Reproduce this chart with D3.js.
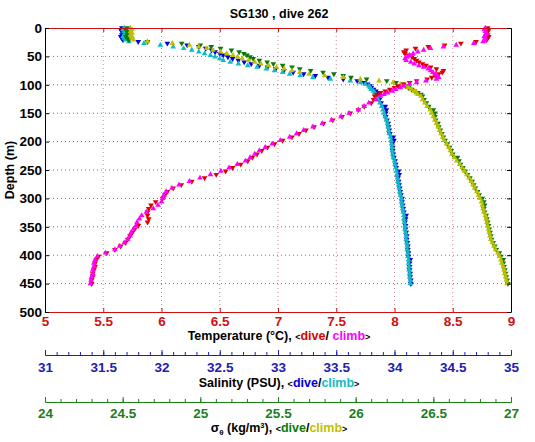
<!DOCTYPE html>
<html><head><meta charset="utf-8">
<script src="https://cdn.jsdelivr.net/npm/d3@7"></script>
<style>
body{margin:0;background:#fff}
text{font-family:"Liberation Sans",Arial,Helvetica,sans-serif;font-weight:bold}
</style>
</head><body>
<svg id="c" width="535" height="442"></svg>
<script>
// ---------------- data ----------------
const depth = [0,3,6,9,12,15,18,21,24,27,30,33,36,39,42,45,48,51,54,57,60,63,66,69,72,75,78,81,84,87,90,93,96,99,102,105,108,111,114,117,120,
126,132,138,144,150,156,162,168,174,180,186,192,198,204,210,216,222,228,234,240,246,252,258,264,270,276,282,288,294,300,306,312,318,324,330,336,342,348,354,360,366,372,378,384,390,396,402,408,414,420,426,432,438,444,450];

const tempDive = [8.80,8.81,8.80,8.79,8.80,8.81,8.80,8.79,8.70,8.57,
8.43,8.29,8.18,8.10,8.08,8.09,8.12,8.15,8.17,8.19,
8.21,8.24,8.27,8.31,8.36,8.42,8.41,8.38,8.35,8.32,
8.28,8.19,8.13,8.08,8.03,8.00,7.96,7.92,7.88,7.85,7.83,
7.82,7.80,7.74,7.69,7.62,7.55,7.47,7.39,7.31,7.24,
7.18,7.12,7.04,6.97,6.91,6.86,6.82,6.78,6.74,6.68,
6.61,6.55,6.47,6.37,6.26,6.17,6.10,6.05,6.03,6.01,
5.95,5.91,5.89,5.88,5.88,5.89,5.88,5.80,5.77,5.75,
5.73,5.71,5.69,5.65,5.60,5.53,5.46,5.44,5.43,5.43,
5.42,5.41,5.41,5.40,5.40];

const tempClimb = [8.78,8.77,8.78,8.79,8.78,8.77,8.78,8.78,8.76,8.68,
8.53,8.42,8.31,8.25,8.20,8.16,8.13,8.11,8.09,8.10,
8.14,8.17,8.21,8.25,8.29,8.31,8.33,8.35,8.37,8.38,
8.36,8.27,8.19,8.13,8.08,8.05,8.01,7.98,7.94,7.91,7.88,
7.84,7.78,7.74,7.69,7.61,7.54,7.46,7.38,7.30,7.22,
7.16,7.10,7.02,6.95,6.89,6.84,6.80,6.76,6.72,6.65,
6.58,6.51,6.42,6.33,6.24,6.15,6.09,6.04,6.02,6.01,
6.00,5.97,5.93,5.87,5.83,5.81,5.79,5.78,5.76,5.74,
5.73,5.71,5.68,5.64,5.60,5.52,5.45,5.43,5.42,5.42,
5.41,5.41,5.40,5.395,5.39];

const salDive = [31.66,31.65,31.66,31.67,31.66,31.65,31.66,31.67,31.80,32.05,
32.22,32.32,32.38,32.43,32.46,32.50,32.53,32.57,32.61,32.66,
32.71,32.77,32.84,32.91,32.98,33.05,33.13,33.22,33.32,33.43,
33.56,33.68,33.74,33.77,33.79,33.80,33.82,33.84,33.86,33.87,33.87,
33.87,33.885,33.92,33.93,33.925,33.925,33.935,33.945,33.95,33.955,
33.96,33.99,33.995,33.98,33.985,33.985,33.99,33.995,34.005,34.01,
34.015,34.035,34.04,34.03,34.035,34.04,34.045,34.05,34.055,34.065,
34.065,34.07,34.075,34.08,34.10,34.095,34.09,34.095,34.095,34.10,
34.105,34.105,34.11,34.115,34.115,34.12,34.12,34.135,34.13,34.13,
34.13,34.135,34.135,34.14,34.14];

const salClimb = [31.68,31.67,31.68,31.69,31.68,31.67,31.68,31.69,31.72,31.85,
31.99,32.10,32.19,32.26,32.32,32.37,32.42,32.46,32.50,32.53,
32.59,32.66,32.74,32.82,32.90,32.97,33.04,33.10,33.19,33.30,
33.45,33.62,33.71,33.75,33.78,33.79,33.80,33.82,33.83,33.84,33.85,
33.86,33.875,33.89,33.90,33.91,33.92,33.93,33.94,33.945,33.95,
33.955,33.965,33.97,33.975,33.98,33.98,33.985,33.99,34.00,34.005,
34.01,34.015,34.02,34.025,34.03,34.035,34.04,34.045,34.05,34.06,
34.06,34.065,34.07,34.075,34.08,34.08,34.085,34.09,34.09,34.095,
34.10,34.10,34.105,34.11,34.11,34.115,34.115,34.12,34.12,34.125,
34.125,34.13,34.13,34.135,34.135];

const sigmaDive = [24.53,24.52,24.53,24.54,24.53,24.52,24.53,24.54,24.66,24.88,
25.00,25.07,25.13,25.20,25.25,25.28,25.30,25.32,25.34,25.38,
25.43,25.47,25.53,25.59,25.64,25.71,25.79,25.86,25.92,25.97,
26.07,26.20,26.26,26.30,26.32,26.34,26.36,26.38,26.40,26.42,26.43,
26.44,26.455,26.47,26.50,26.51,26.51,26.515,26.53,26.535,26.545,
26.555,26.565,26.575,26.59,26.605,26.615,26.625,26.655,26.665,26.675,
26.69,26.705,26.72,26.735,26.75,26.76,26.77,26.785,26.795,26.815,
26.825,26.83,26.825,26.83,26.84,26.845,26.85,26.855,26.86,26.865,
26.87,26.875,26.885,26.895,26.905,26.925,26.935,26.95,26.95,26.955,
26.96,26.965,26.97,26.975,26.98];

const sigmaClimb = [24.55,24.56,24.55,24.56,24.55,24.56,24.56,24.57,24.66,24.82,
24.93,24.99,25.04,25.08,25.13,25.17,25.21,25.24,25.27,25.31,
25.35,25.39,25.44,25.49,25.54,25.59,25.64,25.70,25.80,25.92,
26.03,26.15,26.24,26.29,26.32,26.34,26.36,26.38,26.39,26.40,26.42,
26.43,26.445,26.46,26.48,26.49,26.50,26.51,26.52,26.53,26.54,
26.55,26.56,26.57,26.585,26.60,26.61,26.62,26.635,26.65,26.67,
26.685,26.70,26.715,26.73,26.745,26.755,26.765,26.78,26.79,26.80,
26.81,26.815,26.82,26.825,26.835,26.84,26.845,26.85,26.855,26.86,
26.865,26.87,26.88,26.89,26.90,26.915,26.925,26.935,26.94,26.95,
26.955,26.96,26.965,26.97,26.975];

const depthTicks = [0,50,100,150,200,250,300,350,400,450,500];
const tempTicks = [5,5.5,6,6.5,7,7.5,8,8.5,9];
const salTicks = [31,31.5,32,32.5,33,33.5,34,34.5,35];
const sigmaTicks = [24,24.5,25,25.5,26,26.5,27];

// ---------------- layout ----------------
const L = 45, R = 511, T = 28, B = 312;
const col = {red:'#e00000', mag:'#ff00ff', blue:'#0000e0', cyan:'#10bcc4', green:'#0a7a0a', olive:'#bfbf00',
  tAx:'#d01010', sAx:'#2020b0', gAx:'#1a801a'};

const svg = d3.select('#c');
const y = d3.scaleLinear().domain([0,500]).range([T,B]);
const xT = d3.scaleLinear().domain([5,9]).range([L,R]);
const xS = d3.scaleLinear().domain([31,35]).range([L,R]);
const xG = d3.scaleLinear().domain([24,27]).range([L,R]);

// grid
svg.append('g').selectAll('line').data(tempTicks.slice(1,-1)).join('line')
  .attr('x1',d=>xT(d)).attr('x2',d=>xT(d)).attr('y1',T).attr('y2',B)
  .attr('stroke','#c09090').attr('stroke-width',1).attr('stroke-dasharray','1,3');
svg.append('g').selectAll('line').data(depthTicks.slice(1,-1)).join('line')
  .attr('x1',L).attr('x2',R).attr('y1',d=>y(d)).attr('y2',d=>y(d))
  .attr('stroke','#707070').attr('stroke-width',1).attr('stroke-dasharray','1,3');

// data markers
const tri = d3.symbol().type(d3.symbolTriangle).size(14);
function series(xs, vals, color, dive){
  svg.append('g').selectAll('path').data(vals).join('path')
    .attr('d', tri())
    .attr('transform',(v,i)=>`translate(${xs(v)},${y(depth[i])})${dive?' rotate(180)':''}`)
    .attr('fill',color).attr('stroke','none');
}
series(xS, salDive, col.blue, true);
series(xS, salClimb, col.cyan, false);
series(xG, sigmaDive, col.green, true);
series(xG, sigmaClimb, col.olive, false);
series(xT, tempDive, col.red, true);
series(xT, tempClimb, col.mag, false);

// axes
function style(g, c, fs){
  g.attr('font-weight','bold').attr('font-family','"Liberation Sans",Arial,sans-serif');
  g.selectAll('path,line').attr('stroke',c).attr('stroke-width',1);
  g.selectAll('text').attr('fill',c).style('font-size',fs+'px').style('font-weight','bold')
    .style('font-family','"Liberation Sans",Arial,sans-serif');
}
const fmt = d=>String(d);
const FS = 13.5;
svg.append('g').attr('transform',`translate(0,${B})`)
  .call(d3.axisBottom(xT).tickValues(tempTicks).tickFormat(fmt).tickSizeInner(-4).tickSizeOuter(0).tickPadding(4))
  .call(g=>style(g,col.tAx,FS));
svg.append('g').attr('transform',`translate(0,${T})`)
  .call(d3.axisTop(xT).tickValues(tempTicks).tickFormat('').tickSizeInner(-4).tickSizeOuter(0))
  .call(g=>style(g,col.tAx,FS));
svg.append('g').attr('transform',`translate(${L},0)`)
  .call(d3.axisLeft(y).tickValues(depthTicks).tickFormat(fmt).tickSizeInner(-4).tickSizeOuter(0).tickPadding(3))
  .call(g=>style(g,'#000',FS));
svg.append('g').attr('transform',`translate(${R},0)`)
  .call(d3.axisRight(y).tickValues(depthTicks).tickFormat('').tickSizeInner(-4).tickSizeOuter(0))
  .call(g=>style(g,'#000',FS));

// salinity axis
const sY = 355;
svg.append('g').attr('transform',`translate(0,${sY})`)
  .call(d3.axisBottom(xS).tickValues(xS.ticks(40)).tickFormat('').tickSizeInner(-3).tickSizeOuter(0))
  .call(g=>style(g,col.sAx,FS));
svg.append('g').attr('transform',`translate(0,${sY})`)
  .call(d3.axisBottom(xS).tickValues(salTicks).tickFormat(fmt).tickSizeInner(-5).tickSizeOuter(0).tickPadding(7))
  .call(g=>style(g,col.sAx,FS));
// density axis
const gY = 402;
svg.append('g').attr('transform',`translate(0,${gY})`)
  .call(d3.axisBottom(xG).tickValues(xG.ticks(30)).tickFormat('').tickSizeInner(-3).tickSizeOuter(0))
  .call(g=>style(g,col.gAx,FS));
svg.append('g').attr('transform',`translate(0,${gY})`)
  .call(d3.axisBottom(xG).tickValues(sigmaTicks).tickFormat(fmt).tickSizeInner(-5).tickSizeOuter(0).tickPadding(6))
  .call(g=>style(g,col.gAx,FS));

// titles
svg.append('text').attr('x',279).attr('y',18).attr('text-anchor','middle')
  .style('font-size','12.5px').text('SG130 , dive 262');
svg.append('text').attr('transform','translate(14,170) rotate(-90)').attr('text-anchor','middle')
  .style('font-size','12.5px').text('Depth (m)');

function label(yb, parts){
  const t = svg.append('text').attr('x',279).attr('y',yb).attr('text-anchor','middle').style('font-size','12.5px');
  parts.forEach(p=>{
    const s = t.append('tspan').text(p[0]).attr('fill',p[1]||'#000');
    if(p[2]) s.style('font-size',p[2]+'px');
    if(p[3]) s.attr('dy',p[3]);
  });
}
label(340, [['Temperature (°C), '],['<','#000',9],['dive',col.red],['/ '],['climb',col.mag],['>','#000',9]]);
label(387, [['Salinity (PSU), '],['<','#000',9],['dive',col.blue],['/'],['climb',col.cyan],['>','#000',9]]);
label(432, [['σ'],['θ','#000',8,3],[' (kg/m','#000',null,-3],['3','#000',7.5,-4],['), ','#000',null,4],['<','#000',9],['dive',col.green],['/'],['climb',col.olive],['>','#000',9]]);
</script>
</body></html>
